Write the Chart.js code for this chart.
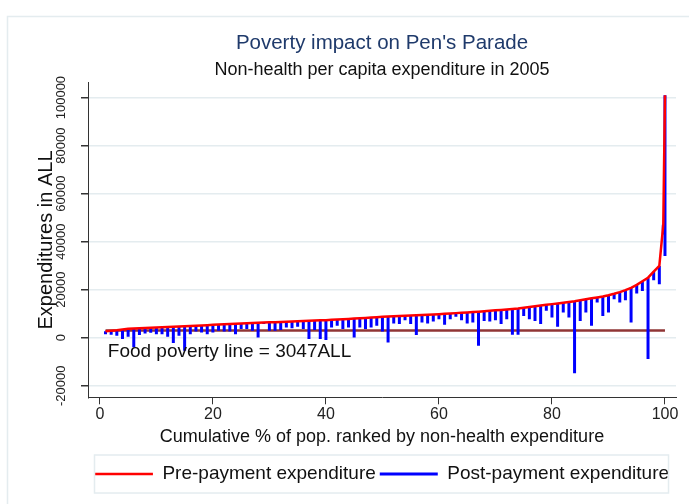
<!DOCTYPE html>
<html>
<head>
<meta charset="utf-8">
<title>Poverty impact on Pen's Parade</title>
<script src="https://cdn.jsdelivr.net/npm/chart.js@4.4.1/dist/chart.umd.min.js"></script>
<style>
  html, body { margin: 0; padding: 0; background: #fff; }
  #wrap { width: 689px; height: 504px; }
</style>
</head>
<body>
<div id="wrap"><canvas id="parade" width="689" height="504"></canvas></div>
<script>
// cumulative % of population (percentile rank), last two points are the top tail
const pct = [
  1, 2, 3, 4, 5, 6, 7, 8, 9, 10,
  11, 12, 13, 14, 15, 16, 17, 18, 19, 20,
  21, 22, 23, 24, 25, 26, 27, 28, 29, 30,
  31, 32, 33, 34, 35, 36, 37, 38, 39, 40,
  41, 42, 43, 44, 45, 46, 47, 48, 49, 50,
  51, 52, 53, 54, 55, 56, 57, 58, 59, 60,
  61, 62, 63, 64, 65, 66, 67, 68, 69, 70,
  71, 72, 73, 74, 75, 76, 77, 78, 79, 80,
  81, 82, 83, 84, 85, 86, 87, 88, 89, 90,
  91, 92, 93, 94, 95, 96, 97, 98, 99,
  99.7, 100
];

// pre-payment (non-health) per capita expenditure, ALL
const prePayment = [
  2700, 2900, 3100, 3400, 3700, 3850, 4000, 4100, 4200, 4300,
  4400, 4500, 4600, 4700, 4800, 4900, 5000, 5100, 5250, 5400,
  5500, 5600, 5700, 5800, 5900, 6000, 6100, 6200, 6300, 6400,
  6500, 6600, 6700, 6800, 6900, 7000, 7100, 7200, 7250, 7300,
  7450, 7600, 7700, 7850, 8000, 8100, 8250, 8400, 8550, 8700,
  8850, 9000, 9100, 9200, 9300, 9400, 9500, 9600, 9700, 9800,
  9950, 10100, 10250, 10400, 10550, 10700, 10850, 11000, 11200, 11400,
  11600, 11800, 12000, 12200, 12500, 12800, 13100, 13400, 13700, 14000,
  14300, 14600, 14900, 15200, 15600, 16000, 16400, 16800, 17200, 17700,
  18300, 19000, 19800, 20800, 22000, 23500, 25000, 27500, 29900,
  47000, 101000
];

// post-payment expenditure (after out-of-pocket health payments), ALL
const postPayment = [
  1500, 1250, 830, -550, 400, -4000, 1100, 1800, 2100, 1500,
  1500, 400, -2200, 830, -5400, 1500, 2600, 2200, 1500, 2200,
  2900, 2600, 2600, 1500, 3600, 3600, 2900, 100, 5700, 2900,
  2900, 3200, 4300, 4000, 4600, 3600, -550, 3200, -550, -950,
  4300, 5000, 3600, 4300, 100, 4300, 3600, 4300, 5000, 2600,
  -1950, 5900, 5700, 7300, 5700, 1100, 6300, 5900, 6800, 7700,
  5400, 7700, 8700, 7300, 5900, 6300, -3300, 7000, 6800, 7300,
  5700, 7700, 1250, 1250, 9100, 7700, 7000, 5700, 11200, 8400,
  4600, 10500, 8400, -14800, 7000, 10500, 5000, 14700, 9100, 10500,
  16000, 14700, 15600, 6300, 18400, 19500, -8850, 23900, 22300,
  43000, 34000
];

const foodPovertyLine = 3047;
const foodLineSpan = [1, 100];

const xTicks = [0, 20, 40, 60, 80, 100];
const yTicks = [-20000, 0, 20000, 40000, 60000, 80000, 100000];

const titleText = "Poverty impact on Pen's Parade";
const subtitleText = 'Non-health per capita expenditure in 2005';
const xTitle = 'Cumulative % of pop. ranked by non-health expenditure';
const yTitle = 'Expenditures in ALL';
const foodLabel = 'Food poverty line = ' + foodPovertyLine + 'ALL';
const seriesLabels = ['Pre-payment expenditure', 'Post-payment expenditure'];

const FONT = '"Liberation Sans", Arial, Helvetica, sans-serif';
Chart.defaults.font.family = FONT;

// pre-payment line
const preData = pct.map((p, i) => ({ x: p, y: prePayment[i] }));

// each percentile gets a spike from pre to post, broken apart with a gap
const spikeData = [];
pct.forEach((p, i) => {
  spikeData.push({ x: p, y: prePayment[i] });
  spikeData.push({ x: p, y: postPayment[i] });
  spikeData.push({ x: p, y: null });
});

const foodData = foodLineSpan.map(p => ({ x: p, y: foodPovertyLine }));

const extras = {
  id: 'extras',
  beforeDraw(chart) {
    const ctx = chart.ctx;
    ctx.save();
    ctx.fillStyle = '#fff';
    ctx.fillRect(0, 0, chart.width, chart.height);
    ctx.strokeStyle = '#e4ecef';
    ctx.lineWidth = 1.5;
    ctx.strokeRect(7.5, 16.5, chart.width, chart.height);
    ctx.restore();
  },
  afterDatasetsDraw(chart) {
    const { ctx, scales: { x, y } } = chart;
    ctx.save();
    ctx.font = '19px ' + FONT;
    ctx.fillStyle = '#111';
    ctx.textBaseline = 'middle';
    ctx.fillText(foodLabel, x.getPixelForValue(1.4), y.getPixelForValue(-5960));
    ctx.restore();
  },
  afterDraw(chart) {
    const { ctx, scales: { y }, legend, chartArea } = chart;
    // rotated y tick labels, Stata style
    ctx.save();
    ctx.font = '13px ' + FONT;
    ctx.fillStyle = '#222';
    ctx.textAlign = 'center';
    ctx.textBaseline = 'middle';
    y.ticks.forEach(t => {
      ctx.save();
      ctx.translate(y.right - 27, y.getPixelForValue(t.value));
      ctx.rotate(-Math.PI / 2);
      ctx.fillText(String(t.value), 0, 0);
      ctx.restore();
    });
    // frame round the legend
    const cy = legend.top + legend.options.labels.padding + 9.5;
    ctx.strokeStyle = '#e4ecef';
    ctx.lineWidth = 1.5;
    ctx.strokeRect(chartArea.left + 6.5, cy - 19, chartArea.right - chartArea.left - 14, 38);
    ctx.restore();
  }
};

new Chart(document.getElementById('parade'), {
  type: 'line',
  data: {
    datasets: [
      {
        label: seriesLabels[0],
        data: preData,
        borderColor: '#ff0000',
        backgroundColor: '#ff0000',
        borderWidth: 2.5,
        pointRadius: 0,
        tension: 0
      },
      {
        label: seriesLabels[1],
        data: spikeData,
        borderColor: '#0000ff',
        backgroundColor: '#0000ff',
        borderWidth: 3,
        borderCapStyle: 'butt',
        pointRadius: 0,
        spanGaps: false
      },
      {
        label: 'food',
        data: foodData,
        borderColor: '#8f3535',
        borderWidth: 2.5,
        pointRadius: 0
      }
    ]
  },
  options: {
    responsive: false,
    animation: false,
    events: [],
    layout: { padding: { left: 10, right: 13, top: 31, bottom: 10.5 } },
    plugins: {
      title: {
        display: true,
        text: titleText,
        fullSize: false,
        color: '#1f3a6b',
        font: { size: 20.5, weight: 'normal' },
        padding: { top: 0, bottom: 4 }
      },
      subtitle: {
        display: true,
        text: subtitleText,
        fullSize: false,
        color: '#111',
        font: { size: 18, weight: 'normal' },
        padding: { top: 0, bottom: 1.5 }
      },
      legend: {
        position: 'bottom',
        fullSize: false,
        labels: {
          usePointStyle: true,
          pointStyle: 'line',
          pointStyleWidth: 58,
          font: { size: 19 },
          color: '#111',
          padding: 4,
          filter: item => item.datasetIndex < 2
        }
      },
      tooltip: { enabled: false }
    },
    scales: {
      x: {
        type: 'linear',
        min: -2.1,
        max: 101.95,
        afterBuildTicks: s => { s.ticks = xTicks.map(v => ({ value: v })); },
        afterFit: s => { s.height = 63.2; },
        grid: { drawOnChartArea: false, tickLength: 7, tickColor: '#333' },
        border: { color: '#333', width: 1 },
        ticks: { font: { size: 16 }, color: '#222', padding: 1, maxRotation: 0 },
        title: {
          display: true,
          text: xTitle,
          color: '#111',
          font: { size: 18 },
          padding: { top: 0, bottom: 12.7 }
        }
      },
      y: {
        type: 'linear',
        min: -24800,
        max: 106200,
        afterBuildTicks: s => { s.ticks = yTicks.map(v => ({ value: v })); },
        afterFit: s => { s.width = 78; },
        grid: { color: '#e4ecef', lineWidth: 1.5, tickLength: 7, tickColor: '#333' },
        border: { color: '#333', width: 1 },
        ticks: { display: false },
        title: {
          display: true,
          text: yTitle,
          color: '#111',
          font: { size: 20 },
          padding: { top: 24, bottom: 0 }
        }
      }
    }
  },
  plugins: [extras]
});
</script>
</body>
</html>
